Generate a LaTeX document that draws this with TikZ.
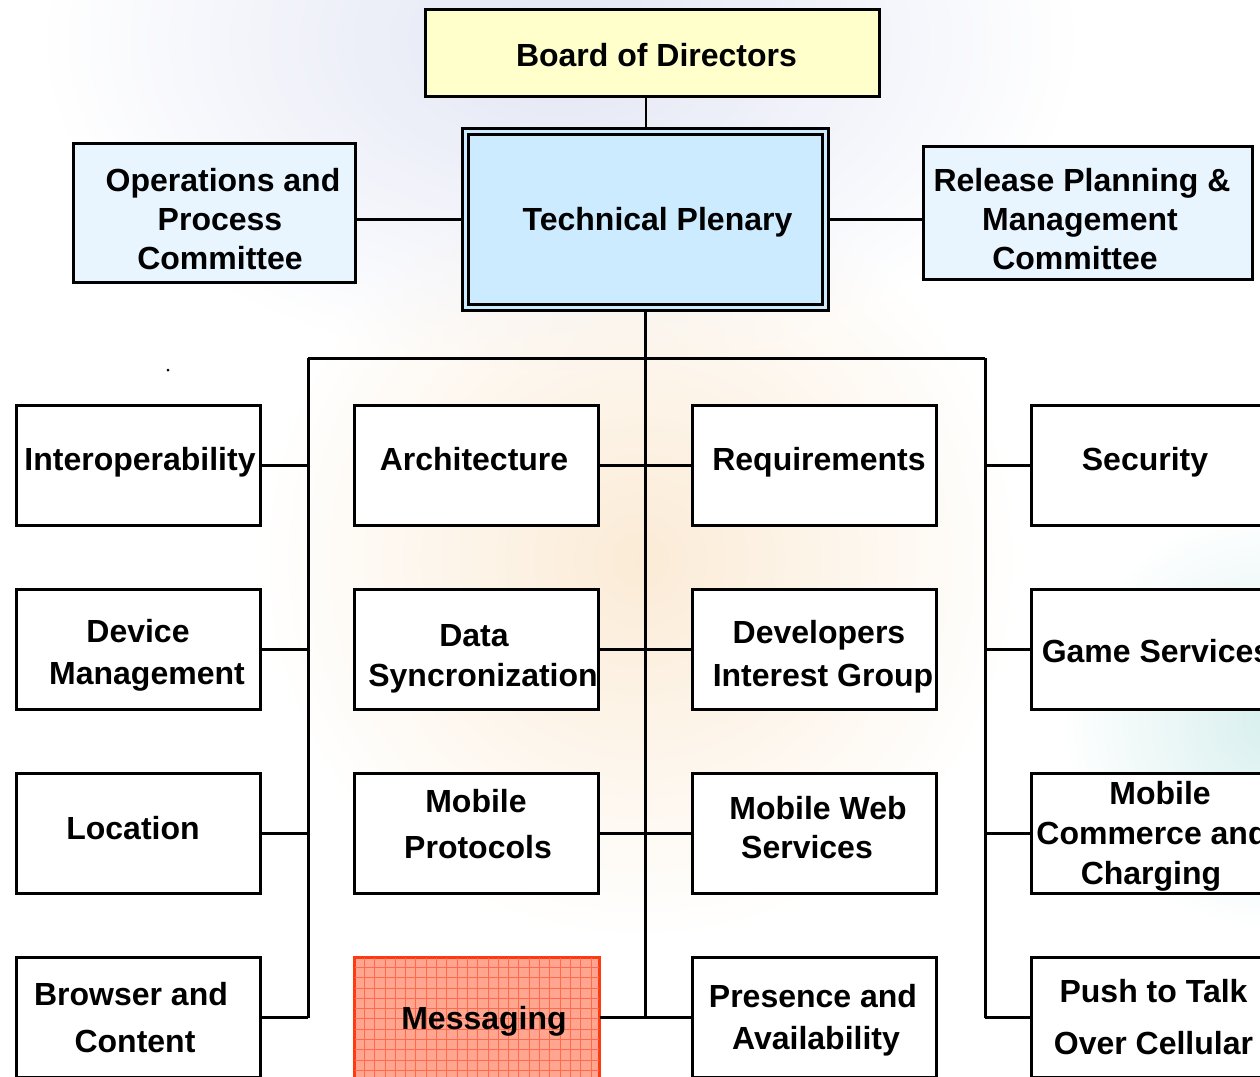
\documentclass[tikz,border=0pt]{standalone}
\usepackage{fontspec}
\setmainfont{Liberation Sans}
\usetikzlibrary{fadings}
\tikzfading[name=glow, inner color=transparent!0, outer color=transparent!100]
\definecolor{boardfill}{HTML}{FFFFCC}
\definecolor{tpfill}{HTML}{CCEBFF}
\definecolor{comfill}{HTML}{E8F5FF}
\definecolor{msgfill}{HTML}{FFA590}
\definecolor{msggrid}{HTML}{FF6A4C}
\definecolor{msgline}{HTML}{FF3A10}
\definecolor{lav}{HTML}{E2E5F4}
\definecolor{peach}{HTML}{FBEBD6}
\definecolor{teal}{HTML}{D8F0EE}
\begin{document}
\begin{tikzpicture}[x=1pt,y=-1pt,
  txt/.style={font=\fontsize{32}{40}\selectfont\bfseries, align=center, inner sep=0pt},
  box/.style={draw, line width=3pt, fill=white, minimum width=244pt, minimum height=120pt, inner sep=0pt},
  com/.style={draw, line width=3pt, fill=comfill, inner sep=0pt},
  conn/.style={line width=3pt},
  thin/.style={line width=2pt}]
\useasboundingbox (0,0) rectangle (1260,1076);
\clip (0,0) rectangle (1260,1076);
% background glows
\fill[lav, path fading=glow] (560,40) ellipse (520 and 330);
\fill[peach, path fading=glow] (640,560) circle (380);
\fill[teal, path fading=glow] (1270,720) circle (210);
% top level
\node[com, fill=boardfill, minimum width=454pt, minimum height=87pt] (board) at (652.5,53) {};
\node[txt] (boardt) at (656.5,55) {Board of Directors};
\node[com, fill=tpfill, minimum width=360pt, minimum height=176pt, double=tpfill, double distance=3pt, outer sep=4.5pt] (tp) at (645.5,219.5) {};
\node[txt] (tpt) at (657.5,222.5) {Technical Plenary};
\node[com, minimum width=282pt, minimum height=139pt] (ops) at (214.5,213) {};
\node[txt, font=\fontsize{32}{39}\selectfont\bfseries] (opst) at (220,219.5) {\hspace*{6pt}Operations and\\Process\hspace*{12pt}\\Committee};
\node[com, minimum width=329pt, minimum height=133pt] (rel) at (1088,213) {};
\node[txt, font=\fontsize{32}{39}\selectfont\bfseries] (relt) at (1080,219.5) {\hspace*{4pt}Release Planning \&\\Management\\Committee\hspace*{10pt}};
\fill (168,370) circle (1.5);
% working groups
\node[box] (a1) at (138.5,465.5) {};
\node[box] (a2) at (138.5,649.5) {};
\node[box] (a3) at (138.5,833.5) {};
\node[box] (a4) at (138.5,1017.5) {};
\node[box] (b1) at (476.5,465.5) {};
\node[box] (b2) at (476.5,649.5) {};
\node[box] (b3) at (476.5,833.5) {};
\node[box, draw=msgline, line width=2pt, fill=msgfill] (b4) at (476.5,1017.5) {};
\begin{scope}
\clip (354,957) rectangle (599,1076);
\foreach \i in {0,...,25} {\draw[msggrid, line width=0.8pt] (354+10.3*\i,957) -- (354+10.3*\i,1080);}
\foreach \i in {0,...,12} {\draw[msggrid, line width=0.8pt] (354,957+10.3*\i) -- (600,957+10.3*\i);}
\end{scope}
\draw[msgline, line width=2pt] (b4.south west) |- (b4.north east) -- (b4.south east);
\node[box] (c1) at (814.5,465.5) {};
\node[box] (c2) at (814.5,649.5) {};
\node[box] (c3) at (814.5,833.5) {};
\node[box] (c4) at (814.5,1017.5) {};
\node[box] (d1) at (1153.5,465.5) {};
\node[box] (d2) at (1153.5,649.5) {};
\node[box] (d3) at (1153.5,833.5) {};
\node[box] (d4) at (1153.5,1017.5) {};
% texts
\node[txt] (a1t) at (140,462.5) {Interoperability};
\node[txt, font=\fontsize{32}{42}\selectfont\bfseries] (a2t) at (138,655) {Device\\\hspace*{18pt}Management};
\node[txt] (a3t) at (133,828) {Location};
\node[txt, font=\fontsize{32}{47}\selectfont\bfseries] (a4t) at (131,1017.5) {Browser and\\\hspace*{8pt}Content};
\node[txt] (b1t) at (474,459) {Architecture};
\node[txt] (b2t) at (474,659) {Data\\\hspace*{18pt}Syncronization};
\node[txt, font=\fontsize{32}{46}\selectfont\bfseries] (b3t) at (476,824.5) {Mobile\\\hspace*{4pt}Protocols};
\node[txt] (b4t) at (484,1021) {Messaging};
\node[txt] (c1t) at (819,462.5) {Requirements};
\node[txt, font=\fontsize{32}{43}\selectfont\bfseries] (c2t) at (819,657) {Developers\\\hspace*{8pt}Interest Group};
\node[txt, font=\fontsize{32}{39}\selectfont\bfseries] (c3t) at (818,828) {Mobile Web\\Services\hspace*{22pt}};
\node[txt, font=\fontsize{32}{42}\selectfont\bfseries] (c4t) at (813,1020.5) {Presence and\\\hspace*{6pt}Availability};
\node[txt] (d1t) at (1145,462.5) {Security};
\node[txt] (d2t) at (1156.5,651.5) {Game Services};
\node[txt] (d3t) at (1152,836.5) {\hspace*{16pt}Mobile\\Commerce and\\Charging\hspace*{2pt}};
\node[txt, font=\fontsize{32}{52}\selectfont\bfseries] (d4t) at (1153.5,1017.5) {Push to Talk\\Over Cellular};
% connectors
\draw[thin] (tp.north |- board.south) -- (tp.north);
\draw[conn] (tp.west -| ops.east) -- (tp.west);
\draw[conn] (tp.east) -- (tp.east -| rel.west);
\coordinate (busL) at (308,358);
\coordinate (busR) at (985,358);
\coordinate (busC) at (tp.south |- busL);
\draw[conn] (busL) -- (busR);
\draw[conn] (tp.south) -- (tp.south |- c4.west);
\draw[conn] (busL) -- (busL |- a4.east);
\draw[conn] (busR) -- (busR |- d4.west);
\foreach \r in {1,2,3,4} {
  \draw[conn] (a\r.east) -- (a\r.east -| busL);
  \draw[conn] (b\r.east) -- (c\r.west);
  \draw[conn] (busR |- d\r.west) -- (d\r.west);
}
\end{tikzpicture}
\end{document}
